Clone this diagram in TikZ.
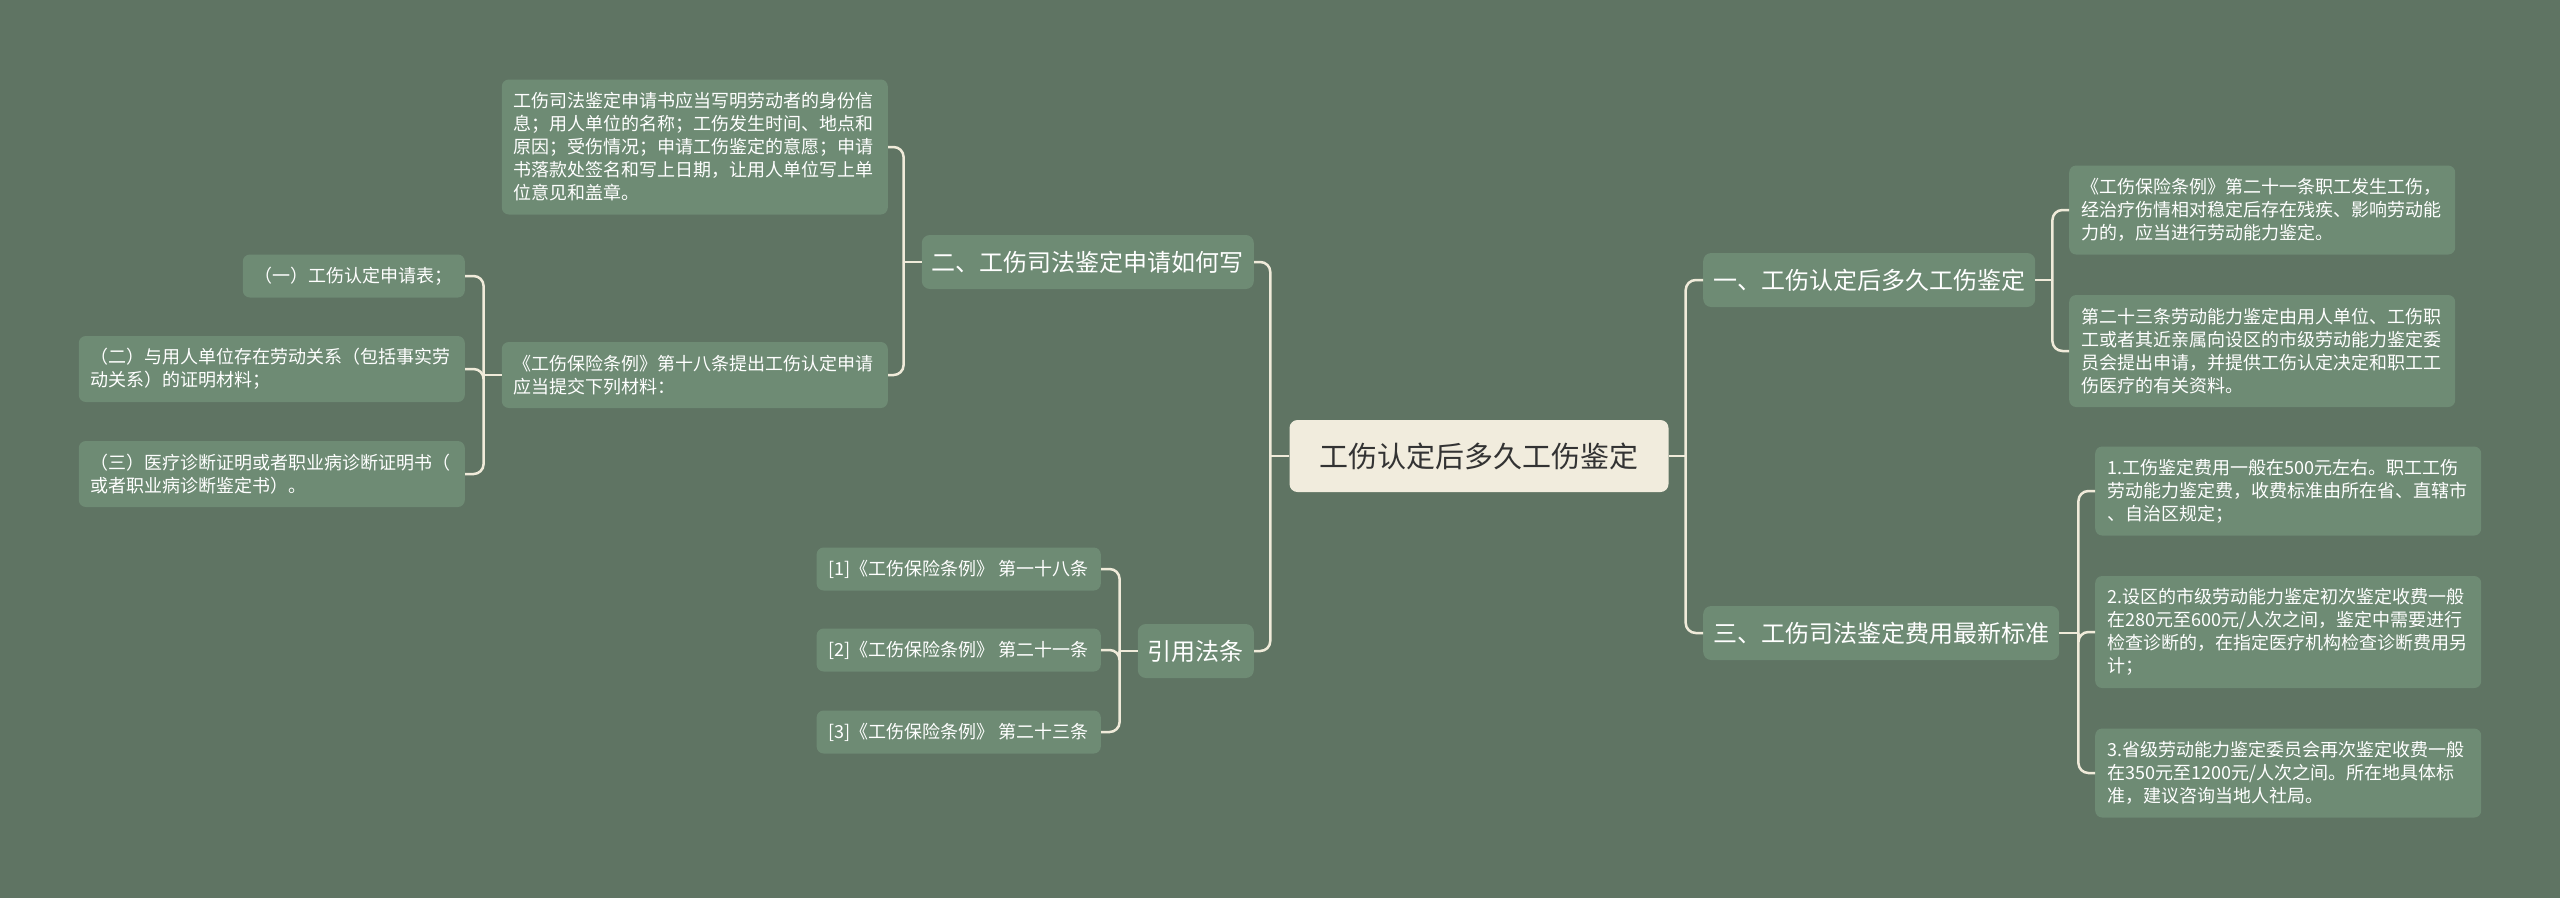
\documentclass[tikz,border=0pt]{standalone}
\usepackage{fontspec}
\newfontfamily\cjk{Noto Sans CJK SC}
\usepackage{tikz}
\usetikzlibrary{calc}
\definecolor{bgc}{RGB}{95,116,99}
\definecolor{boxc}{RGB}{110,139,116}
\definecolor{linec}{RGB}{240,235,218}
\definecolor{rootc}{RGB}{241,236,221}
\definecolor{inkc}{RGB}{51,51,51}

\begin{document}
\begin{tikzpicture}[x=1pt,y=-1pt,
  rootbox/.style={fill=rootc, rounded corners=8pt, text=inkc, font=\cjk\fontsize{29}{34}\selectfont, minimum width=379pt, minimum height=72pt},
  branch/.style={fill=boxc, rounded corners=8pt, text=white, font=\cjk\fontsize{24}{28}\selectfont, inner xsep=10pt, minimum height=54pt},
  leaf/.style={fill=boxc, rounded corners=7pt, text=white, font=\cjk\fontsize{18}{23}\selectfont, inner xsep=12pt, inner ysep=9pt, align=left, minimum height=#1*23pt+20pt},
  leaf/.default=1,
  wide/.style={text width=362pt},
  link/.style={draw=linec, line width=2.5pt, rounded corners=10pt}]
  \fill[bgc] (0,0) rectangle (2560,898);
  \useasboundingbox (0,0) rectangle (2560,898);

  % centre and branches
  \node[rootbox] (root) at (1479,456) {工伤认定后多久工伤鉴定};
  \node[branch, anchor=west] (b1) at (1703,280) {一、工伤认定后多久工伤鉴定};
  \node[branch, anchor=east] (b2) at (1254,262) {二、工伤司法鉴定申请如何写};
  \node[branch, anchor=west] (b3) at (1703,633) {三、工伤司法鉴定费用最新标准};
  \node[branch, anchor=east] (b4) at (1254,651) {引用法条};

  % right side leaves
  \node[leaf=3, wide, anchor=west] (l1a) at (2069,210) {《工伤保险条例》第二十一条职工发生工伤，\\经治疗伤情相对稳定后存在残疾、影响劳动能\\力的，应当进行劳动能力鉴定。};
  \node[leaf=4, wide, anchor=west] (l1b) at (2069,351) {第二十三条劳动能力鉴定由用人单位、工伤职\\工或者其近亲属向设区的市级劳动能力鉴定委\\员会提出申请，并提供工伤认定决定和职工工\\伤医疗的有关资料。};
  \node[leaf=3, wide, anchor=west] (l3a) at (2095,491) {1.工伤鉴定费用一般在500元左右。职工工伤\\劳动能力鉴定费，收费标准由所在省、直辖市\\、自治区规定；};
  \node[leaf=4, wide, anchor=west] (l3b) at (2095,632) {2.设区的市级劳动能力鉴定初次鉴定收费一般\\在280元至600元/人次之间，鉴定中需要进行\\检查诊断的，在指定医疗机构检查诊断费用另\\计；};
  \node[leaf=3, wide, anchor=west] (l3c) at (2095,773) {3.省级劳动能力鉴定委员会再次鉴定收费一般\\在350元至1200元/人次之间。所在地具体标\\准，建议咨询当地人社局。};

  % left side leaves
  \node[leaf=5, wide, anchor=east] (l2a) at (888,147) {工伤司法鉴定申请书应当写明劳动者的身份信\\息；用人单位的名称；工伤发生时间、地点和\\原因；受伤情况；申请工伤鉴定的意愿；申请\\书落款处签名和写上日期，让用人单位写上单\\位意见和盖章。};
  \node[leaf=2, wide, anchor=east] (l2b) at (888,375) {《工伤保险条例》第十八条提出工伤认定申请\\应当提交下列材料：};
  \node[leaf, anchor=east] (s1) at (465,276) {（一）工伤认定申请表；};
  \node[leaf=2, wide, anchor=east] (s2) at (465,369) {（二）与用人单位存在劳动关系（包括事实劳\\动关系）的证明材料；};
  \node[leaf=2, wide, anchor=east] (s3) at (465,474) {（三）医疗诊断证明或者职业病诊断证明书（\\或者职业病诊断鉴定书）。};
  \foreach \i/\t/\y in {1/第一十八条/569, 2/第二十一条/650, 3/第二十三条/732}
    \node[leaf, anchor=east] (r\i) at (1101,\y) {[\i]《工伤保险条例》 \t};

  % connectors
  \coordinate (rootR) at ($(root.east)+(17,0)$);
  \coordinate (rootL) at ($(root.west)+(-19,0)$);
  \coordinate (b1R) at ($(b1.east)+(17,0)$);
  \coordinate (b3R) at ($(b3.east)+(19,0)$);
  \coordinate (b2L) at ($(b2.west)+(-18,0)$);
  \coordinate (b4L) at ($(b4.west)+(-18,0)$);
  \coordinate (l2bL) at ($(l2b.west)+(-18,0)$);
  \draw[link] (root.east) -- (rootR);
  \draw[link] (root.west) -- (rootL);
  \draw[link] (b1.east) -- (b1R);
  \draw[link] (b3.east) -- (b3R);
  \draw[link] (b2.west) -- (b2L);
  \draw[link] (b4.west) -- (b4L);
  \draw[link] (l2b.west) -- (l2bL);
  \foreach \c in {b1,b3} \draw[link] (rootR) |- (\c.west);
  \foreach \c in {b2,b4} \draw[link] (rootL) |- (\c.east);
  \foreach \c in {l1a,l1b} \draw[link] (b1R) |- (\c.west);
  \foreach \c in {l3a,l3b,l3c} \draw[link] (b3R) |- (\c.west);
  \foreach \c in {l2a,l2b} \draw[link] (b2L) |- (\c.east);
  \foreach \c in {s1,s2,s3} \draw[link] (l2bL) |- (\c.east);
  \foreach \c in {r1,r2,r3} \draw[link] (b4L) |- (\c.east);
\end{tikzpicture}
\end{document}
